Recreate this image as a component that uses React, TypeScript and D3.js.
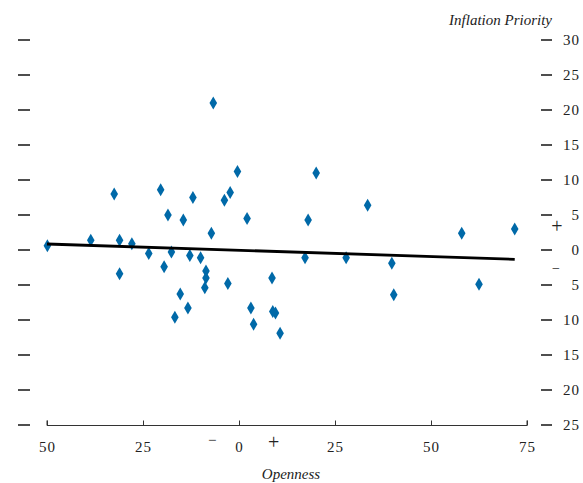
import React, { useEffect, useRef } from "react";
import * as d3 from "d3";

// openness (x) and inflation priority (y) for each country
const openness = [
  -6.7, -0.4, -32.5, -20.4, -12.0, -3.8, -2.3, -18.5, -14.5, 2.1, -7.2, -49.9,
  -38.6, -31.1, -27.9, -23.5, -17.6, -12.8, -10.0, -31.1, -19.5, -8.6, -8.6,
  -8.9, -2.9, -15.3, -13.3, -16.7, 3.1, 3.8, 8.6, 8.8, 9.5, 10.7, 20.1, 18.0,
  33.5, 58.0, 71.8, 17.2, 27.9, 39.8, 40.3, 62.5,
];
const inflation = [
  21.0, 11.2, 8.0, 8.6, 7.5, 7.1, 8.2, 5.0, 4.3, 4.5, 2.4, 0.6, 1.4, 1.4, 0.9,
  -0.5, -0.3, -0.8, -1.1, -3.4, -2.4, -3.0, -4.0, -5.4, -4.8, -6.3, -8.3, -9.6,
  -8.3, -10.6, -4.0, -8.8, -9.0, -11.9, 11.0, 4.3, 6.4, 2.4, 3.0, -1.1, -1.1,
  -1.9, -6.4, -4.9,
];

// fitted line end points
const fitX = [-50, 71.8];
const fitY = [0.86, -1.33];

const xTicks = [-50, -25, 0, 25, 50, 75];
const yTicks = [30, 25, 20, 15, 10, 5, 0, -5, -10, -15, -20, -25];

const W = 583;
const H = 483;
const FONT = "'Liberation Serif', serif";

const App = () => {
  const ref = useRef(null);

  useEffect(() => {
    const svg = d3.select(ref.current);
    svg.selectAll("*").remove();

    const x = d3.scaleLinear().domain([-50, 75]).range([47, 527]);
    const y = d3.scaleLinear().domain([-25, 30]).range([425, 40]);

    // bottom axis
    const xAxis = d3
      .axisBottom(x)
      .tickValues(xTicks)
      .tickSize(-5)
      .tickPadding(16)
      .tickFormat((d) => String(Math.abs(+d)));
    const gx = svg
      .append("g")
      .attr("transform", `translate(0,${y(-25) + 0.5})`)
      .call(xAxis);
    gx.select(".domain").attr("stroke", "#333").attr("d", `M${x(-50)},-5V0H${x(75)}V-5`);
    gx.selectAll(".tick line").attr("stroke", "#333");
    gx.selectAll(".tick text")
      .attr("font-family", FONT)
      .attr("font-size", 15)
      .attr("letter-spacing", 1)
      .attr("fill", "#222");

    // left ticks (no labels)
    svg
      .append("g")
      .selectAll("line")
      .data(yTicks)
      .enter()
      .append("line")
      .attr("x1", 18)
      .attr("x2", 30)
      .attr("y1", (d) => y(d))
      .attr("y2", (d) => y(d))
      .attr("stroke", "#222")
      .attr("stroke-width", 1.6);

    // right ticks with labels
    const right = svg.append("g");
    right
      .selectAll("line")
      .data(yTicks)
      .enter()
      .append("line")
      .attr("x1", 541)
      .attr("x2", 552)
      .attr("y1", (d) => y(d))
      .attr("y2", (d) => y(d))
      .attr("stroke", "#222")
      .attr("stroke-width", 1.6);
    right
      .selectAll("text")
      .data(yTicks)
      .enter()
      .append("text")
      .attr("x", 580)
      .attr("y", (d) => y(d) + 5)
      .attr("text-anchor", "end")
      .attr("font-family", FONT)
      .attr("font-size", 15)
      .attr("letter-spacing", 1)
      .attr("fill", "#222")
      .text((d) => Math.abs(d));

    // sign markers
    const signs = svg
      .append("g")
      .attr("font-family", FONT)
      .attr("fill", "#222")
      .attr("text-anchor", "middle");
    signs.append("text").attr("x", 557).attr("y", y(3) + 4).attr("font-size", 20).text("+");
    signs.append("text").attr("x", 556).attr("y", y(-2.7) + 4).attr("font-size", 14).text("−");
    signs.append("text").attr("x", x(-7)).attr("y", 445).attr("font-size", 15).text("−");
    signs.append("text").attr("x", x(9)).attr("y", 449).attr("font-size", 20).text("+");

    // axis titles
    svg
      .append("text")
      .attr("x", 552)
      .attr("y", 25)
      .attr("text-anchor", "end")
      .attr("font-family", FONT)
      .attr("font-style", "italic")
      .attr("font-size", 15)
      .attr("fill", "#222")
      .text("Inflation Priority");
    svg
      .append("text")
      .attr("x", 291)
      .attr("y", 479)
      .attr("text-anchor", "middle")
      .attr("font-family", FONT)
      .attr("font-style", "italic")
      .attr("font-size", 15)
      .attr("fill", "#222")
      .text("Openness");

    // points
    const pts = openness.map((v, i) => [v, inflation[i]]);
    svg
      .append("g")
      .selectAll("path")
      .data(pts)
      .enter()
      .append("path")
      .attr("transform", (d) => `translate(${x(d[0])},${y(d[1])})`)
      .attr("d", "M0,-6.5L3.8,0L0,6.5L-3.8,0Z")
      .attr("fill", "#0069a8");

    // fit line
    const line = d3
      .line()
      .x((d) => x(d[0]))
      .y((d) => y(d[1]));
    svg
      .append("path")
      .datum(fitX.map((v, i) => [v, fitY[i]]))
      .attr("d", line)
      .attr("fill", "none")
      .attr("stroke", "#000")
      .attr("stroke-width", 2.8);
  }, []);

  return (
    <svg
      ref={ref}
      width={W}
      height={H}
      style={{ position: "absolute", left: 0, top: 0, background: "#fff" }}
    ></svg>
  );
};

export default App;
